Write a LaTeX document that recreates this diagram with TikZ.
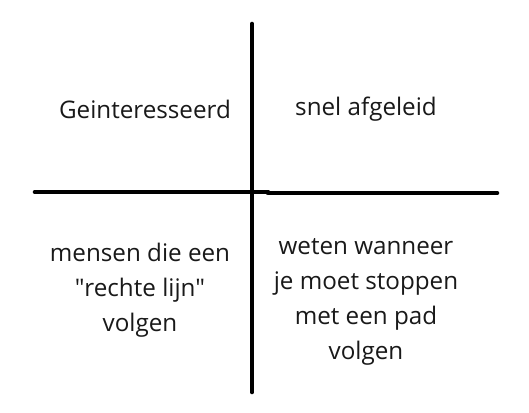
\documentclass[tikz,border=0pt]{standalone}
\usepackage{fontspec}
\setmainfont{Open Sans}
\begin{document}
\begin{tikzpicture}[x=1bp,y=1bp,
  axis/.style={line width=4.6bp,line cap=round},
  label/.style={font=\fontsize{24.3}{35}\selectfont,align=center,inner sep=0pt,text=black!90}]
\useasboundingbox[fill=white] (0,0) rectangle (529,412);
\coordinate (vt) at (252,388);
\coordinate (vb) at (252,20);
\coordinate (hl) at (35,220);
\coordinate (hm) at (268,220);
\coordinate (hm2) at (268,219);
\coordinate (hr) at (497,219);
\draw[axis] (vt) -- (vb);
\draw[axis] (hl) -- (hm);
\draw[axis] (hm2) -- (hr);
\node[label] (tl) at (145,303) {Geinteresseerd};
\node[label] (tr) at (366,303) {snel afgeleid};
\node[label] (bl) at (140,122) {mensen die een\\\textquotedbl rechte lijn\textquotedbl\\volgen};
\node[label] (br) at (366,110) {weten wanneer\\je moet stoppen\\met een pad\\volgen};
\end{tikzpicture}
\end{document}
